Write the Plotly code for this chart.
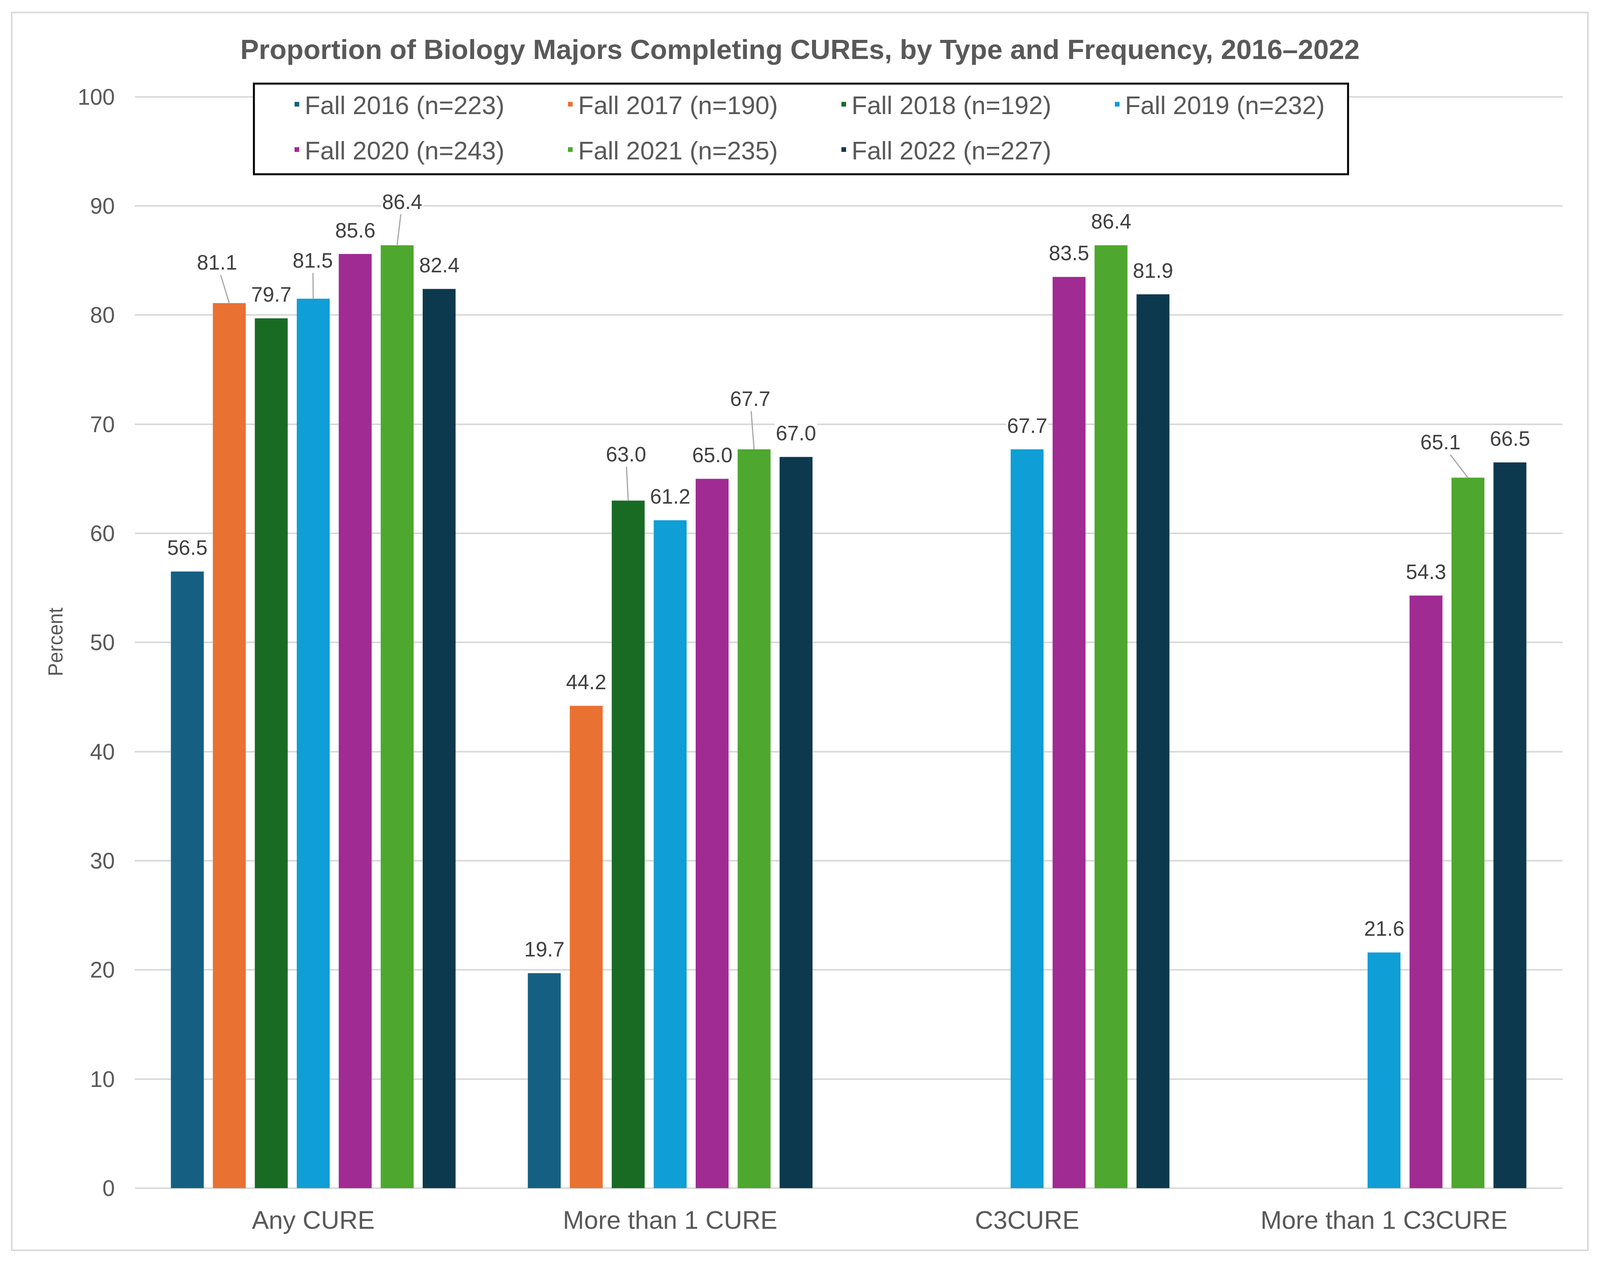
import plotly.graph_objects as go

categories = ["Any CURE", "More than 1 CURE", "C3CURE", "More than 1 C3CURE"]
series_names = ["Fall 2016 (n=223)", "Fall 2017 (n=190)", "Fall 2018 (n=192)",
                "Fall 2019 (n=232)", "Fall 2020 (n=243)", "Fall 2021 (n=235)",
                "Fall 2022 (n=227)"]
fall_2016 = [56.5, 19.7, None, None]
fall_2017 = [81.1, 44.2, None, None]
fall_2018 = [79.7, 63.0, None, None]
fall_2019 = [81.5, 61.2, 67.7, 21.6]
fall_2020 = [85.6, 65.0, 83.5, 54.3]
fall_2021 = [86.4, 67.7, 86.4, 65.1]
fall_2022 = [82.4, 67.0, 81.9, 66.5]
series_values = [fall_2016, fall_2017, fall_2018, fall_2019, fall_2020, fall_2021, fall_2022]
y_ticks = [0, 10, 20, 30, 40, 50, 60, 70, 80, 90, 100]

colors = ["#156082", "#E97132", "#196B24", "#0F9ED5", "#A02B93", "#4EA72E", "#0D394E"]

# Excel-style moved labels with leader lines: (category idx, series idx) -> pixel offset
moved_labels = {
    (0, 1): (-32, -104),
    (0, 3): (-1, -98),
    (0, 5): (13, -111),
    (1, 2): (-6, -119),
    (1, 5): (-10, -130),
    (3, 5): (-70, -91),
}

FONT = "Liberation Sans, Arial, sans-serif"
TXT = "#595959"
GRID = "#D9D9D9"

# the browser viewport is 4096 px wide; page has an 8 px body margin
W, H = 4080, 3214
ML, MR, MT, MB = 337, 88, 237, 181
bargap = 0.177
bargroupgap = 0.216
n_series = len(series_names)
slot = (1 - bargap) / n_series

fig = go.Figure()
for i, (name, vals) in enumerate(zip(series_names, series_values)):
    fig.add_trace(go.Bar(
        x=categories, y=vals, name=name,
        marker=dict(color=colors[i], line=dict(width=0)),
        legend="legend" if i < 4 else "legend2",
        hoverinfo="skip",
    ))

annotations = []
for i, vals in enumerate(series_values):
    for c, v in enumerate(vals):
        if v is None:
            continue
        xpos = c + (i - (n_series - 1) / 2) * slot
        base = dict(x=xpos, y=v, xref="x", yref="y", text=f"{v:.1f}",
                    font=dict(family=FONT, size=53, color="#404040"),
                    bgcolor="white", borderpad=2)
        if (c, i) in moved_labels:
            dx, dy = moved_labels[(c, i)]
            base.update(showarrow=True, ax=dx, ay=dy, arrowhead=0,
                        arrowwidth=3, arrowcolor="#A6A6A6", standoff=0)
        else:
            base.update(showarrow=False, yshift=61)
        annotations.append(base)

plot_w = W - ML - MR
plot_h = H - MT - MB

def px_x(p):
    return (p - ML) / plot_w

def px_y(p):
    return (H - MB - p) / plot_h

shapes = [
    # outer chart border
    dict(type="rect", xref="paper", yref="paper",
         x0=px_x(22), x1=px_x(4057), y0=px_y(3192), y1=px_y(24),
         line=dict(color=GRID, width=4), fillcolor="rgba(0,0,0,0)", layer="below"),
    # legend box
    dict(type="rect", xref="paper", yref="paper",
         x0=px_x(642), x1=px_x(3443), y0=px_y(438), y1=px_y(206),
         line=dict(color="black", width=5), fillcolor="white", layer="above"),
]

legend_common = dict(orientation="h", xanchor="left", yanchor="middle",
                     font=dict(family=FONT, size=65, color=TXT),
                     bgcolor="rgba(0,0,0,0)", borderwidth=0,
                     entrywidth=655, entrywidthmode="pixels",
                     traceorder="normal", itemclick=False, itemdoubleclick=False)

fig.update_layout(
    width=W, height=H,
    margin=dict(l=ML, r=MR, t=MT, b=MB),
    paper_bgcolor="white", plot_bgcolor="white",
    font=dict(family=FONT, color=TXT),
    title=dict(text="<b>Proportion of Biology Majors Completing CUREs, by Type and Frequency, 2016–2022</b>",
               x=0.5, xanchor="center", xref="container",
               y=1 - 118 / H, yanchor="middle", yref="container",
               font=dict(family=FONT, size=71, color=TXT)),
    barmode="group", bargap=bargap, bargroupgap=bargroupgap,
    legend=dict(x=px_x(732), y=px_y(259), **legend_common),
    legend2=dict(x=px_x(732), y=px_y(375), **legend_common),
    xaxis=dict(type="category", categoryorder="array", categoryarray=categories,
               showgrid=False, showline=False, zeroline=False, ticks="",
               tickfont=dict(family=FONT, size=65, color=TXT),
               ticklabelstandoff=38),
    yaxis=dict(range=[0, 100.1], tickvals=y_ticks, showgrid=True, gridcolor=GRID,
               gridwidth=4, zeroline=True, zerolinecolor=GRID, zerolinewidth=4,
               showline=False, ticks="",
               tickfont=dict(family=FONT, size=57, color=TXT),
               ticklabelstandoff=50,
               title=dict(text="Percent", font=dict(family=FONT, size=51, color=TXT),
                          standoff=22)),
    annotations=annotations,
    shapes=shapes,
)

fig.write_html("out.html")
